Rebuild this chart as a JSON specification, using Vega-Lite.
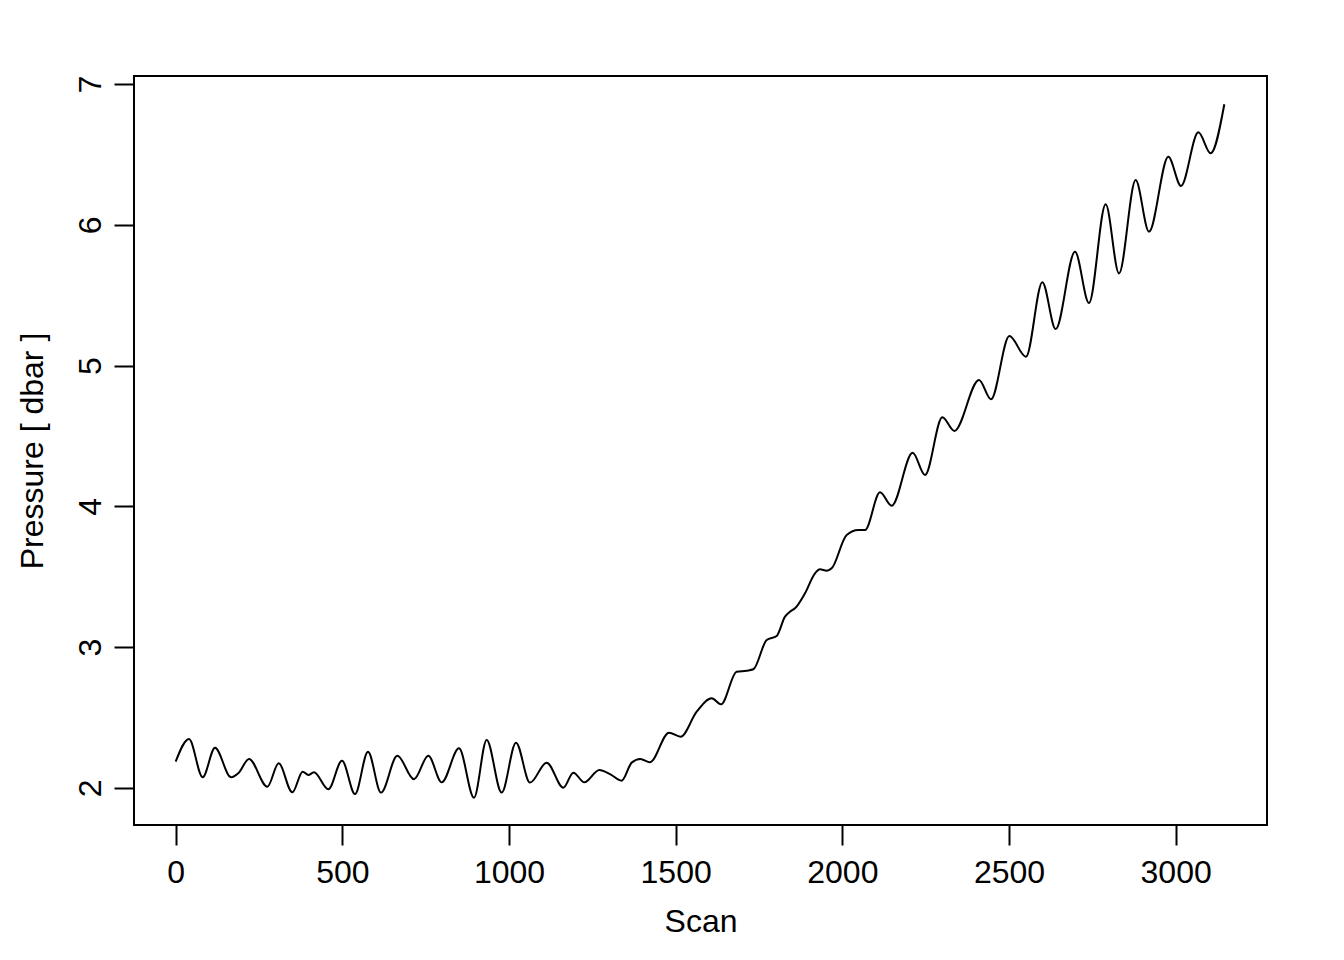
{
  "$schema": "https://vega.github.io/schema/vega-lite/v6.json",
  "width": 1133,
  "height": 749,
  "autosize": {"type": "none"},
  "padding": {"left": 134, "top": 76, "right": 77, "bottom": 135},
  "background": "white",
  "config": {
    "font": "Liberation Sans",
    "view": {"stroke": "black", "strokeWidth": 2}
  },
  "data": {
    "values": [
      {"scan": 0, "pressure": 2.187},
      {"scan": 40, "pressure": 2.348},
      {"scan": 81, "pressure": 2.076},
      {"scan": 118, "pressure": 2.286},
      {"scan": 166, "pressure": 2.076},
      {"scan": 188, "pressure": 2.104},
      {"scan": 220, "pressure": 2.206},
      {"scan": 275, "pressure": 2.009},
      {"scan": 309, "pressure": 2.175},
      {"scan": 350, "pressure": 1.969},
      {"scan": 381, "pressure": 2.116},
      {"scan": 398, "pressure": 2.092},
      {"scan": 415, "pressure": 2.112},
      {"scan": 458, "pressure": 1.991},
      {"scan": 499, "pressure": 2.194},
      {"scan": 538, "pressure": 1.957},
      {"scan": 577, "pressure": 2.258},
      {"scan": 616, "pressure": 1.967},
      {"scan": 665, "pressure": 2.229},
      {"scan": 715, "pressure": 2.062},
      {"scan": 758, "pressure": 2.229},
      {"scan": 798, "pressure": 2.040},
      {"scan": 850, "pressure": 2.282},
      {"scan": 895, "pressure": 1.931},
      {"scan": 933, "pressure": 2.341},
      {"scan": 978, "pressure": 1.967},
      {"scan": 1021, "pressure": 2.322},
      {"scan": 1063, "pressure": 2.038},
      {"scan": 1113, "pressure": 2.180},
      {"scan": 1163, "pressure": 2.002},
      {"scan": 1193, "pressure": 2.109},
      {"scan": 1226, "pressure": 2.040},
      {"scan": 1271, "pressure": 2.128},
      {"scan": 1303, "pressure": 2.099},
      {"scan": 1338, "pressure": 2.052},
      {"scan": 1368, "pressure": 2.180},
      {"scan": 1394, "pressure": 2.206},
      {"scan": 1423, "pressure": 2.183},
      {"scan": 1480, "pressure": 2.393},
      {"scan": 1515, "pressure": 2.364},
      {"scan": 1563, "pressure": 2.542},
      {"scan": 1608, "pressure": 2.637},
      {"scan": 1636, "pressure": 2.594},
      {"scan": 1683, "pressure": 2.826},
      {"scan": 1713, "pressure": 2.833},
      {"scan": 1733, "pressure": 2.843},
      {"scan": 1773, "pressure": 3.051},
      {"scan": 1803, "pressure": 3.080},
      {"scan": 1828, "pressure": 3.217},
      {"scan": 1843, "pressure": 3.252},
      {"scan": 1858, "pressure": 3.276},
      {"scan": 1888, "pressure": 3.383},
      {"scan": 1918, "pressure": 3.525},
      {"scan": 1933, "pressure": 3.553},
      {"scan": 1953, "pressure": 3.543},
      {"scan": 1968, "pressure": 3.560},
      {"scan": 2013, "pressure": 3.797},
      {"scan": 2048, "pressure": 3.832},
      {"scan": 2068, "pressure": 3.832},
      {"scan": 2113, "pressure": 4.100},
      {"scan": 2148, "pressure": 4.005},
      {"scan": 2211, "pressure": 4.381},
      {"scan": 2248, "pressure": 4.223},
      {"scan": 2300, "pressure": 4.633},
      {"scan": 2336, "pressure": 4.536},
      {"scan": 2410, "pressure": 4.898},
      {"scan": 2446, "pressure": 4.761},
      {"scan": 2501, "pressure": 5.210},
      {"scan": 2551, "pressure": 5.063},
      {"scan": 2600, "pressure": 5.592},
      {"scan": 2640, "pressure": 5.260},
      {"scan": 2698, "pressure": 5.809},
      {"scan": 2740, "pressure": 5.445},
      {"scan": 2790, "pressure": 6.146},
      {"scan": 2830, "pressure": 5.655},
      {"scan": 2880, "pressure": 6.318},
      {"scan": 2920, "pressure": 5.951},
      {"scan": 2978, "pressure": 6.484},
      {"scan": 3016, "pressure": 6.276},
      {"scan": 3068, "pressure": 6.657},
      {"scan": 3105, "pressure": 6.508},
      {"scan": 3146, "pressure": 6.856}
    ]
  },
  "mark": {"type": "line", "interpolate": "monotone", "color": "black", "strokeWidth": 2},
  "encoding": {
    "x": {
      "field": "scan",
      "type": "quantitative",
      "scale": {"domain": [-125, 3274], "nice": false, "zero": false},
      "axis": {
        "title": "Scan",
        "values": [0, 500, 1000, 1500, 2000, 2500, 3000],
        "format": "d",
        "grid": false,
        "domain": false,
        "tickSize": 20,
        "tickWidth": 2,
        "tickColor": "black",
        "labelFontSize": 32,
        "labelColor": "black",
        "labelPadding": 12,
        "labelFlush": false,
        "labelOverlap": false,
        "titleFontSize": 32,
        "titleFontWeight": "normal",
        "titleColor": "black",
        "titlePadding": 18
      }
    },
    "y": {
      "field": "pressure",
      "type": "quantitative",
      "scale": {"domain": [1.737, 7.057], "nice": false, "zero": false},
      "axis": {
        "title": "Pressure [ dbar ]",
        "values": [2, 3, 4, 5, 6, 7],
        "format": "d",
        "grid": false,
        "domain": false,
        "tickSize": 20,
        "tickWidth": 2,
        "tickColor": "black",
        "labelFontSize": 32,
        "labelColor": "black",
        "labelAngle": 270,
        "labelAlign": "center",
        "labelBaseline": "alphabetic",
        "labelPadding": 14,
        "labelFlush": false,
        "labelOverlap": false,
        "titleFontSize": 32,
        "titleFontWeight": "normal",
        "titleColor": "black",
        "titleBaseline": "alphabetic",
        "titlePadding": 32
      }
    }
  }
}
